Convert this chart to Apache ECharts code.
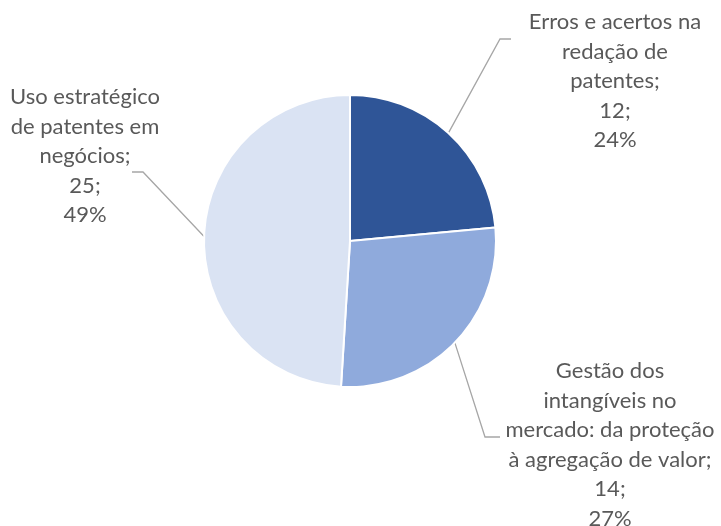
<!DOCTYPE html>
<html>
<head>
<meta charset="utf-8">
<script src="https://cdn.jsdelivr.net/npm/echarts@6/dist/echarts.min.js"></script>
<style>
  html, body { margin: 0; padding: 0; background: #fff; }
  #chart { width: 721px; height: 526px; }
</style>
</head>
<body>
<div id="chart"></div>
<script>
// slice names (line breaks as in the original labels), values and colours
const names = [
  'Erros e acertos na\nredação de\npatentes',
  'Gestão dos\nintangíveis no\nmercado: da proteção\nà agregação de valor',
  'Uso estratégico\nde patentes em\nnegócios'
]
const values = [12, 14, 25]
const colors = ['#2F5597', '#8FAADC', '#DAE3F3']

// where each label block sits (centre) and where its leader line bends
const labelPos = [[615, 81], [610, 445], [85, 156]]
const bendPos = [[[500, 39], [511, 39]], [[485, 437], [500, 437]], [[143, 172], [132, 172]]]

const chart = echarts.init(document.getElementById('chart'))

chart.setOption({
  animation: false,
  series: [
    {
      type: 'pie',
      center: [350, 241],
      radius: [0, 146],
      startAngle: 90,
      clockwise: true,
      percentPrecision: 0,
      avoidLabelOverlap: false,
      itemStyle: { borderColor: '#fff', borderWidth: 2 },
      label: {
        show: true,
        position: 'outside',
        formatter: '{b};\n{c};\n{d}%',
        fontFamily: 'Lato',
        fontSize: 22,
        lineHeight: 29.5,
        color: '#595959',
        align: 'center'
      },
      labelLine: {
        show: true,
        length: 20,
        length2: 10,
        lineStyle: { color: '#A6A6A6', width: 1.3 }
      },
      labelLayout: (params) => {
        const i = params.dataIndex
        const start = params.labelLinePoints ? params.labelLinePoints[0] : bendPos[i][0]
        return {
          x: labelPos[i][0],
          y: labelPos[i][1],
          align: 'center',
          verticalAlign: 'middle',
          labelLinePoints: [start, bendPos[i][0], bendPos[i][1]]
        }
      },
      emphasis: { disabled: true },
      data: names.map((name, i) => ({
        name,
        value: values[i],
        itemStyle: { color: colors[i] }
      }))
    }
  ]
})
</script>
</body>
</html>
